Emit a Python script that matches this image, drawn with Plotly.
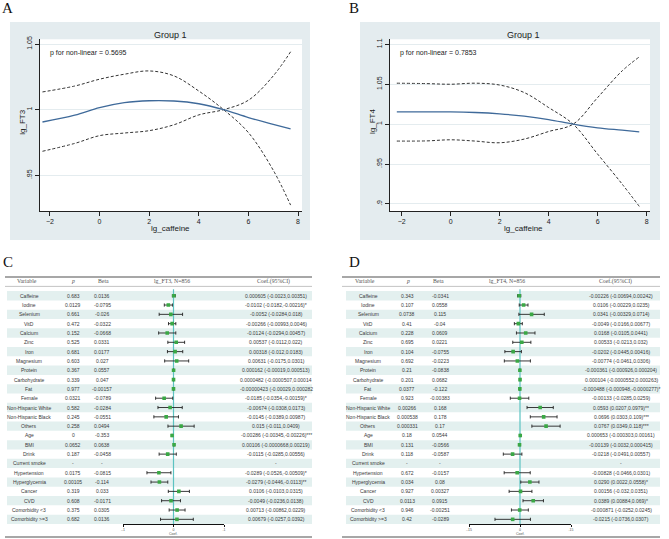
import plotly.graph_objects as go

W, H = 669, 539

# ---------------- Panel A / B spline data ----------------
a_x = [-2.3, -1, 0, 1, 2, 3, 4, 5, 6, 7, 7.7]
a_fit = [0.9906, 0.9958, 1.0015, 1.0053, 1.0068, 1.0066, 1.0045, 1.0000, 0.9940, 0.9888, 0.9853]
a_upper = [1.0135, 1.0180, 1.0232, 1.0270, 1.0295, 1.0257, 1.0142, 1.0000, 0.9825, 0.9539, 0.9273]
a_lower = [0.9683, 0.9743, 0.9802, 0.9822, 0.9840, 0.9885, 0.9960, 1.0000, 1.0072, 1.0257, 1.0441]

b_x = [-2.2, -1, 0, 1, 2, 3, 4, 5, 6, 7, 7.7]
b_fit = [1.0154, 1.0154, 1.0154, 1.0146, 1.0129, 1.0100, 1.0058, 1.0000, 0.9954, 0.9925, 0.9904]
b_upper = [1.0513, 1.0508, 1.0500, 1.0513, 1.0490, 1.0396, 1.0208, 1.0000, 0.9625, 0.9250, 0.8970]
b_lower = [0.9788, 0.9790, 0.9804, 0.9788, 0.9767, 0.9813, 0.9908, 1.0000, 1.0333, 1.0667, 1.0842]

a_ticks_y = [0.95, 1.0, 1.05]
a_ticktext_y = [".95", "1", "1.05"]
b_ticks_y = [0.9, 0.95, 1.0, 1.05, 1.1]
b_ticktext_y = [".9", ".95", "1", "1.05", "1.1"]
x_ticks = [-2, 0, 2, 4, 6, 8]

# ---------------- Forest table data ----------------
variables = ["Caffeine", "Iodine", "Selenium", "VitD", "Calcium", "Zinc", "Iron", "Magnesium",
             "Protein", "Carbohydrate", "Fat", "Female", "Non-Hispanic White", "Non-Hispanic Black",
             "Others", "Age", "BMI", "Drink", "Current smoke", "Hypertension", "Hyperglycemia",
             "Cancer", "CVD", "Comorbidity <3", "Comorbidity >=3"]

c_p = ["0.683", "0.0129", "0.661", "0.472", "0.152", "0.525", "0.681", "0.603", "0.367", "0.339",
       "0.977", "0.0321", "0.582", "0.245", "0.258", "0", "0.0652", "0.187", "-", "0.0175",
       "0.00105", "0.319", "0.608", "0.375", "0.682"]
c_beta = ["0.0136", "-0.0795", "-0.026", "-0.0322", "-0.0668", "0.0331", "0.0177", "0.027", "0.0557",
          "0.047", "-0.00157", "-0.0789", "-0.0284", "-0.0551", "0.0494", "-0.353", "0.0638", "-0.0458",
          "-", "-0.0815", "-0.114", "0.033", "-0.0171", "0.0305", "0.0136"]
c_est = [0.000605, -0.0102, -0.0052, -0.00266, -0.0124, 0.00537, 0.00318, 0.00631, 0.000162, 0.0000482,
         -0.00000423, -0.0185, -0.00674, -0.0145, 0.015, -0.00286, 0.00106, -0.0115, None, -0.0289,
         -0.0279, 0.0106, -0.0049, 0.00713, 0.00679]
c_lo = [-0.0023, -0.0182, -0.0284, -0.00993, -0.0294, -0.0112, -0.012, -0.0175, -0.00019, -0.0000507,
        -0.00029, -0.0354, -0.0308, -0.0389, -0.011, -0.00345, -0.0000668, -0.0285, None, -0.0526,
        -0.0446, -0.0103, -0.0236, -0.00862, -0.0257]
c_hi = [0.00351, -0.00216, 0.018, 0.0046, 0.00457, 0.022, 0.0183, 0.0301, 0.000513, 0.000146,
        0.000282, -0.00159, 0.0173, 0.00987, 0.0409, -0.00226, 0.00219, 0.00556, None, -0.00509,
        -0.0113, 0.0315, 0.0138, 0.0229, 0.0392]
c_label = ["0.000605 (-0.0023,0.00351)", "-0.0102 (-0.0182,-0.00216)*", "-0.0052 (-0.0284,0.018)",
           "-0.00266 (-0.00993,0.0046)", "-0.0124 (-0.0294,0.00457)", "0.00537 (-0.0112,0.022)",
           "0.00318 (-0.012,0.0183)", "0.00631 (-0.0175,0.0301)", "0.000162 (-0.00019,0.000513)",
           "0.0000482 (-0.0000507,0.00014", "-0.00000423 (-0.00029,0.000282",
           "-0.0185 (-0.0354,-0.00159)*", "-0.00674 (-0.0308,0.0173)", "-0.0145 (-0.0389,0.00987)",
           "0.015 (-0.011,0.0409)", "-0.00286 (-0.00345,-0.00226)***", "0.00106 (-0.0000668,0.00219)",
           "-0.0115 (-0.0285,0.00556)", "-", "-0.0289 (-0.0526,-0.00509)*",
           "-0.0279 (-0.0446,-0.0113)**", "0.0106 (-0.0103,0.0315)", "-0.0049 (-0.0236,0.0138)",
           "0.00713 (-0.00862,0.0229)", "0.00679 (-0.0257,0.0392)"]

d_p = ["0.343", "0.107", "0.0738", "0.41", "0.228", "0.695", "0.104", "0.692", "0.21", "0.201",
       "0.0377", "0.923", "0.00266", "0.000538", "0.000331", "0.18", "0.131", "0.118", "-", "0.672",
       "0.034", "0.927", "0.0113", "0.946", "0.42"]
d_beta = ["-0.0341", "0.0558", "0.115", "-0.04", "0.0609", "0.0221", "-0.0755", "-0.0223", "-0.0838",
          "0.0682", "-0.122", "-0.00383", "0.168", "0.178", "0.17", "0.0544", "-0.0566", "-0.0587",
          "-", "-0.0157", "0.08", "0.00327", "0.0915", "-0.00251", "-0.0289"]
d_est = [-0.00226, 0.0106, 0.0341, -0.0049, 0.0168, 0.00533, -0.0202, -0.00774, -0.000361, 0.000104,
         -0.000488, -0.00133, 0.0593, 0.0696, 0.0767, 0.000653, -0.00139, -0.0218, None, -0.00828,
         0.0290, 0.00156, 0.0389, -0.000871, -0.0215]
d_lo = [-0.00694, -0.00229, -0.00329, -0.0166, -0.0105, -0.0213, -0.0445, -0.0461, -0.000926, -0.0000552,
        -0.000948, -0.0285, 0.0207, 0.0303, 0.0349, -0.000303, -0.0032, -0.0491, None, -0.0466,
        0.0022, -0.032, 0.00884, -0.0252, -0.0736]
d_hi = [0.00242, 0.0235, 0.0714, 0.00677, 0.0441, 0.032, 0.00416, 0.0306, 0.000204, 0.000263,
        -0.0000277, 0.0259, 0.0979, 0.109, 0.118, 0.00161, 0.000415, 0.00557, None, 0.0301,
        0.0558, 0.0351, 0.069, 0.0245, 0.0307]
d_label = ["-0.00226 (-0.00694,0.00242)", "0.0106 (-0.00229,0.0235)", "0.0341 (-0.00329,0.0714)",
           "-0.0049 (-0.0166,0.00677)", "0.0168 (-0.0105,0.0441)", "0.00533 (-0.0213,0.032)",
           "-0.0202 (-0.0445,0.00416)", "-0.00774 (-0.0461,0.0306)", "-0.000361 (-0.000926,0.000204)",
           "0.000104 (-0.0000552,0.000263)", "-0.000488 (-0.000948,-0.0000277)*",
           "-0.00133 (-0.0285,0.0259)", "0.0593 (0.0207,0.0979)**", "0.0696 (0.0303,0.109)***",
           "0.0767 (0.0349,0.118)***", "0.000653 (-0.000303,0.00161)", "-0.00139 (-0.0032,0.000415)",
           "-0.0218 (-0.0491,0.00557)", "-", "-0.00828 (-0.0466,0.0301)", "0.0290 (0.0022,0.0558)*",
           "0.00156 (-0.032,0.0351)", "0.0389 (0.00884,0.069)*", "-0.000871 (-0.0252,0.0245)",
           "-0.0215 (-0.0736,0.0307)"]

c_ticks = [-0.1, 0, 0.1]
c_ticktext = ["-.1", "0", ".1"]
d_ticks = [-0.15, 0, 0.15]
d_ticktext = ["-.15", "0", ".15"]

# ---------------- helpers ----------------
def px(x):
    return x / W

def py(y):
    return 1 - y / H

BG = "#e4ecef"
LINE = "#3f6a9a"
GREEN = "#3aa845"
TEAL = "#5cc3c1"
SHADE = "#e3f0ef"
SANS = "Liberation Sans, Arial"
SERIF = "Liberation Serif, Times New Roman, serif"

fig = go.Figure()
shapes = []
ann = []

def note(text, x, y, size, family=SANS, color="#222", yref="paper", **kw):
    d = dict(text=text, x=x, y=y, xref="paper", yref=yref, showarrow=False,
             xanchor=kw.pop("xanchor", "center"), yanchor="middle",
             font=dict(size=size, family=family, color=color))
    d.update(kw)
    ann.append(d)

# ---------------- gray panel frames (own background subplots, drawn first) ----------------
PLOT_TOP, PLOT_BOT = 39.3, 211
for xa, ya, (l, r), (pl, pr) in [("x", "y", (10, 310), (40, 302)), ("x3", "y3", (360, 660), (390, 650))]:
    a = (pl - l) / (r - l)
    c = (pr - l) / (r - l)
    b = (240 - PLOT_BOT) / (240 - 22)
    d = (240 - PLOT_TOP) / (240 - 22)
    fig.add_trace(go.Scatter(x=[0, 1, 1, 0, 0, a, a, c, c, a, 0],
                             y=[0, 0, 1, 1, 0, b, d, d, b, b, 0],
                             mode="lines", fill="toself", fillcolor=BG, line=dict(width=0, color=BG),
                             xaxis=xa, yaxis=ya, showlegend=False, hoverinfo="skip"))
    fig.update_layout(**{
        "xaxis" + xa[1:]: dict(domain=[px(l), px(r)], range=[0, 1], visible=False, fixedrange=True,
                               anchor=ya),
        "yaxis" + ya[1:]: dict(domain=[py(240), py(22)], range=[0, 1], visible=False, fixedrange=True,
                               anchor=xa),
    })

# ---------------- spline panels ----------------
def spline_panel(xs, fit, up, lo, xa, ya):
    for ys, dash, col, wd in [(up, "3px,2px", "#333333", 1), (lo, "3px,2px", "#333333", 1),
                              (fit, "solid", LINE, 1.3)]:
        fig.add_trace(go.Scatter(x=xs, y=ys, mode="lines", xaxis=xa, yaxis=ya,
                                 line=dict(color=col, width=wd, dash=dash, shape="spline", smoothing=1),
                                 showlegend=False, hoverinfo="skip"))

spline_panel(a_x, a_fit, a_upper, a_lower, "x2", "y2")
spline_panel(b_x, b_fit, b_upper, b_lower, "x4", "y4")

axis_common = dict(showline=True, linecolor="#222", linewidth=1, ticks="outside", ticklen=4,
                   tickcolor="#222", tickfont=dict(size=7, family="Liberation Sans, Arial", color="#222"),
                   zeroline=False, automargin=False)

fig.update_layout(
    xaxis2=dict(domain=[px(40), px(302)], range=[-2.4, 8.16], tickvals=x_ticks, anchor="y2",
                showgrid=False, **axis_common),
    yaxis2=dict(domain=[py(PLOT_BOT), py(PLOT_TOP)], range=[0.9228, 1.0536], tickvals=a_ticks_y,
                ticktext=a_ticktext_y, tickangle=-90, anchor="x2", showgrid=True, gridcolor=BG, gridwidth=1,
                **axis_common),
    xaxis4=dict(domain=[px(390), px(650)], range=[-2.478, 8.139], tickvals=x_ticks, anchor="y4",
                showgrid=False, **axis_common),
    yaxis4=dict(domain=[py(PLOT_BOT), py(PLOT_TOP)], range=[0.8912, 1.1063], tickvals=b_ticks_y,
                ticktext=b_ticktext_y, tickangle=-90, anchor="x4", showgrid=True, gridcolor=BG, gridwidth=1,
                **axis_common),
)

for cx, ylab, ptxt, ptx, yx in [(170, "lg_FT3", "p for non-linear = 0.5695", 48, 22.7),
                                (523, "lg_FT4", "p for non-linear = 0.7853", 398, 373)]:
    note("Group 1", px(cx), py(35), 9)
    note("lg_caffeine", px(cx), py(228.5), 8)
    note(ylab, px(yx), py(122), 8, textangle=-90)
    note(ptxt, px(ptx), py(52.7), 7, xanchor="left")

for lab, x, y in [("A", 7.5, 8), ("B", 354, 8), ("C", 7.5, 262), ("D", 354, 262)]:
    note(lab, px(x), py(y), 15, family=SERIF, color="#111")

# ---------------- forest panels ----------------
def forest(xa, ya, est, lo, hi, pv, beta, labels, cols, head, shade_lr, line_lr, dom, rng, tv, tt, zero_px):
    n = len(variables)
    rows = list(range(1, n + 1))
    xs, ys, ep, em = [], [], [], []
    for i, (e, l, h) in enumerate(zip(est, lo, hi)):
        if e is None:
            continue
        xs.append(e); ys.append(i + 1); ep.append(h - e); em.append(e - l)
    fig.add_trace(go.Scatter(x=xs, y=ys, mode="markers", xaxis=xa, yaxis=ya, showlegend=False,
                             hoverinfo="skip",
                             marker=dict(symbol="square", size=3.6, color=GREEN, line=dict(width=0)),
                             error_x=dict(type="data", symmetric=False, array=ep, arrayminus=em,
                                          color="#222", thickness=0.9, width=1.6)))
    for r in rows:
        if r % 2 == 1:
            shapes.append(dict(type="rect", xref="paper", yref=ya, x0=px(shade_lr[0]), x1=px(shade_lr[1]),
                               y0=r - 0.5, y1=r + 0.5, fillcolor=SHADE, line=dict(width=0), layer="below"))
    shapes.append(dict(type="line", xref=xa, yref=ya, x0=0, x1=0, y0=0.3, y1=n + 0.5,
                       line=dict(color=TEAL, width=1.2), layer="below"))
    for yy, colr, wd in [(277, "#8a8a8a", 1.5), (286.4, "#b5b5b5", 0.8), (537, "#8a8a8a", 1.5)]:
        shapes.append(dict(type="line", xref="paper", yref="paper", x0=px(line_lr[0]), x1=px(line_lr[1]),
                           y0=py(yy), y1=py(yy), line=dict(color=colr, width=wd), layer="below"))
    for r, v, p_, b_, lb in zip(rows, variables, pv, beta, labels):
        for txt, cx in [(v, cols[0]), (p_, cols[1]), (b_, cols[2]), (lb, cols[3])]:
            note(txt, px(cx), r, 5, color="#3a3a3a", yref=ya)
    for txt, cx in head:
        note(txt, px(cx), py(281.3), 5.8, family=SERIF, color="#555")
    note("Coef.", px(zero_px), py(533.6), 3.6, color="#555")
    fig.update_layout(**{
        "xaxis" + xa[1:]: dict(domain=dom, range=rng, anchor=ya, tickvals=tv, ticktext=tt, showline=True,
                               linecolor="#111", linewidth=1, ticks="outside", ticklen=2, tickcolor="#111",
                               tickfont=dict(size=3.5, family=SANS, color="#555"), showgrid=False,
                               zeroline=False, automargin=False),
        "yaxis" + ya[1:]: dict(domain=[py(524), py(286.4)], range=[n + 0.5, 0], anchor=xa, visible=False,
                               automargin=False),
    })

forest("x5", "y5", c_est, c_lo, c_hi, c_p, c_beta, c_label, [29, 73, 102, 276],
       [("Variable", 27), ("<i>p</i>", 73), ("Beta", 103), ("lg_FT3, N=856", 172), ("Coef.(95%CI)", 273)],
       (7, 312), (5, 312), [px(123), px(224)], [-0.1, 0.1], c_ticks, c_ticktext, 173.5)
forest("x6", "y6", d_est, d_lo, d_hi, d_p, d_beta, d_label, [368, 407, 440, 621],
       [("Variable", 365), ("<i>p</i>", 408), ("Beta", 438), ("lg_FT4, N=856", 507), ("Coef.(95%CI)", 615)],
       (346, 660), (342, 660), [px(469), px(571)], [-0.15, 0.15], d_ticks, d_ticktext, 520)

fig.update_layout(width=W, height=H, margin=dict(l=0, r=0, t=0, b=0, autoexpand=False),
                  paper_bgcolor="white", plot_bgcolor="rgba(0,0,0,0)", shapes=shapes,
                  annotations=ann, showlegend=False)

fig.write_html("out.html", config={"displayModeBar": False},
               post_script="document.body.style.margin='0';document.body.style.padding='0';"
                           "document.body.style.overflow='hidden';")
